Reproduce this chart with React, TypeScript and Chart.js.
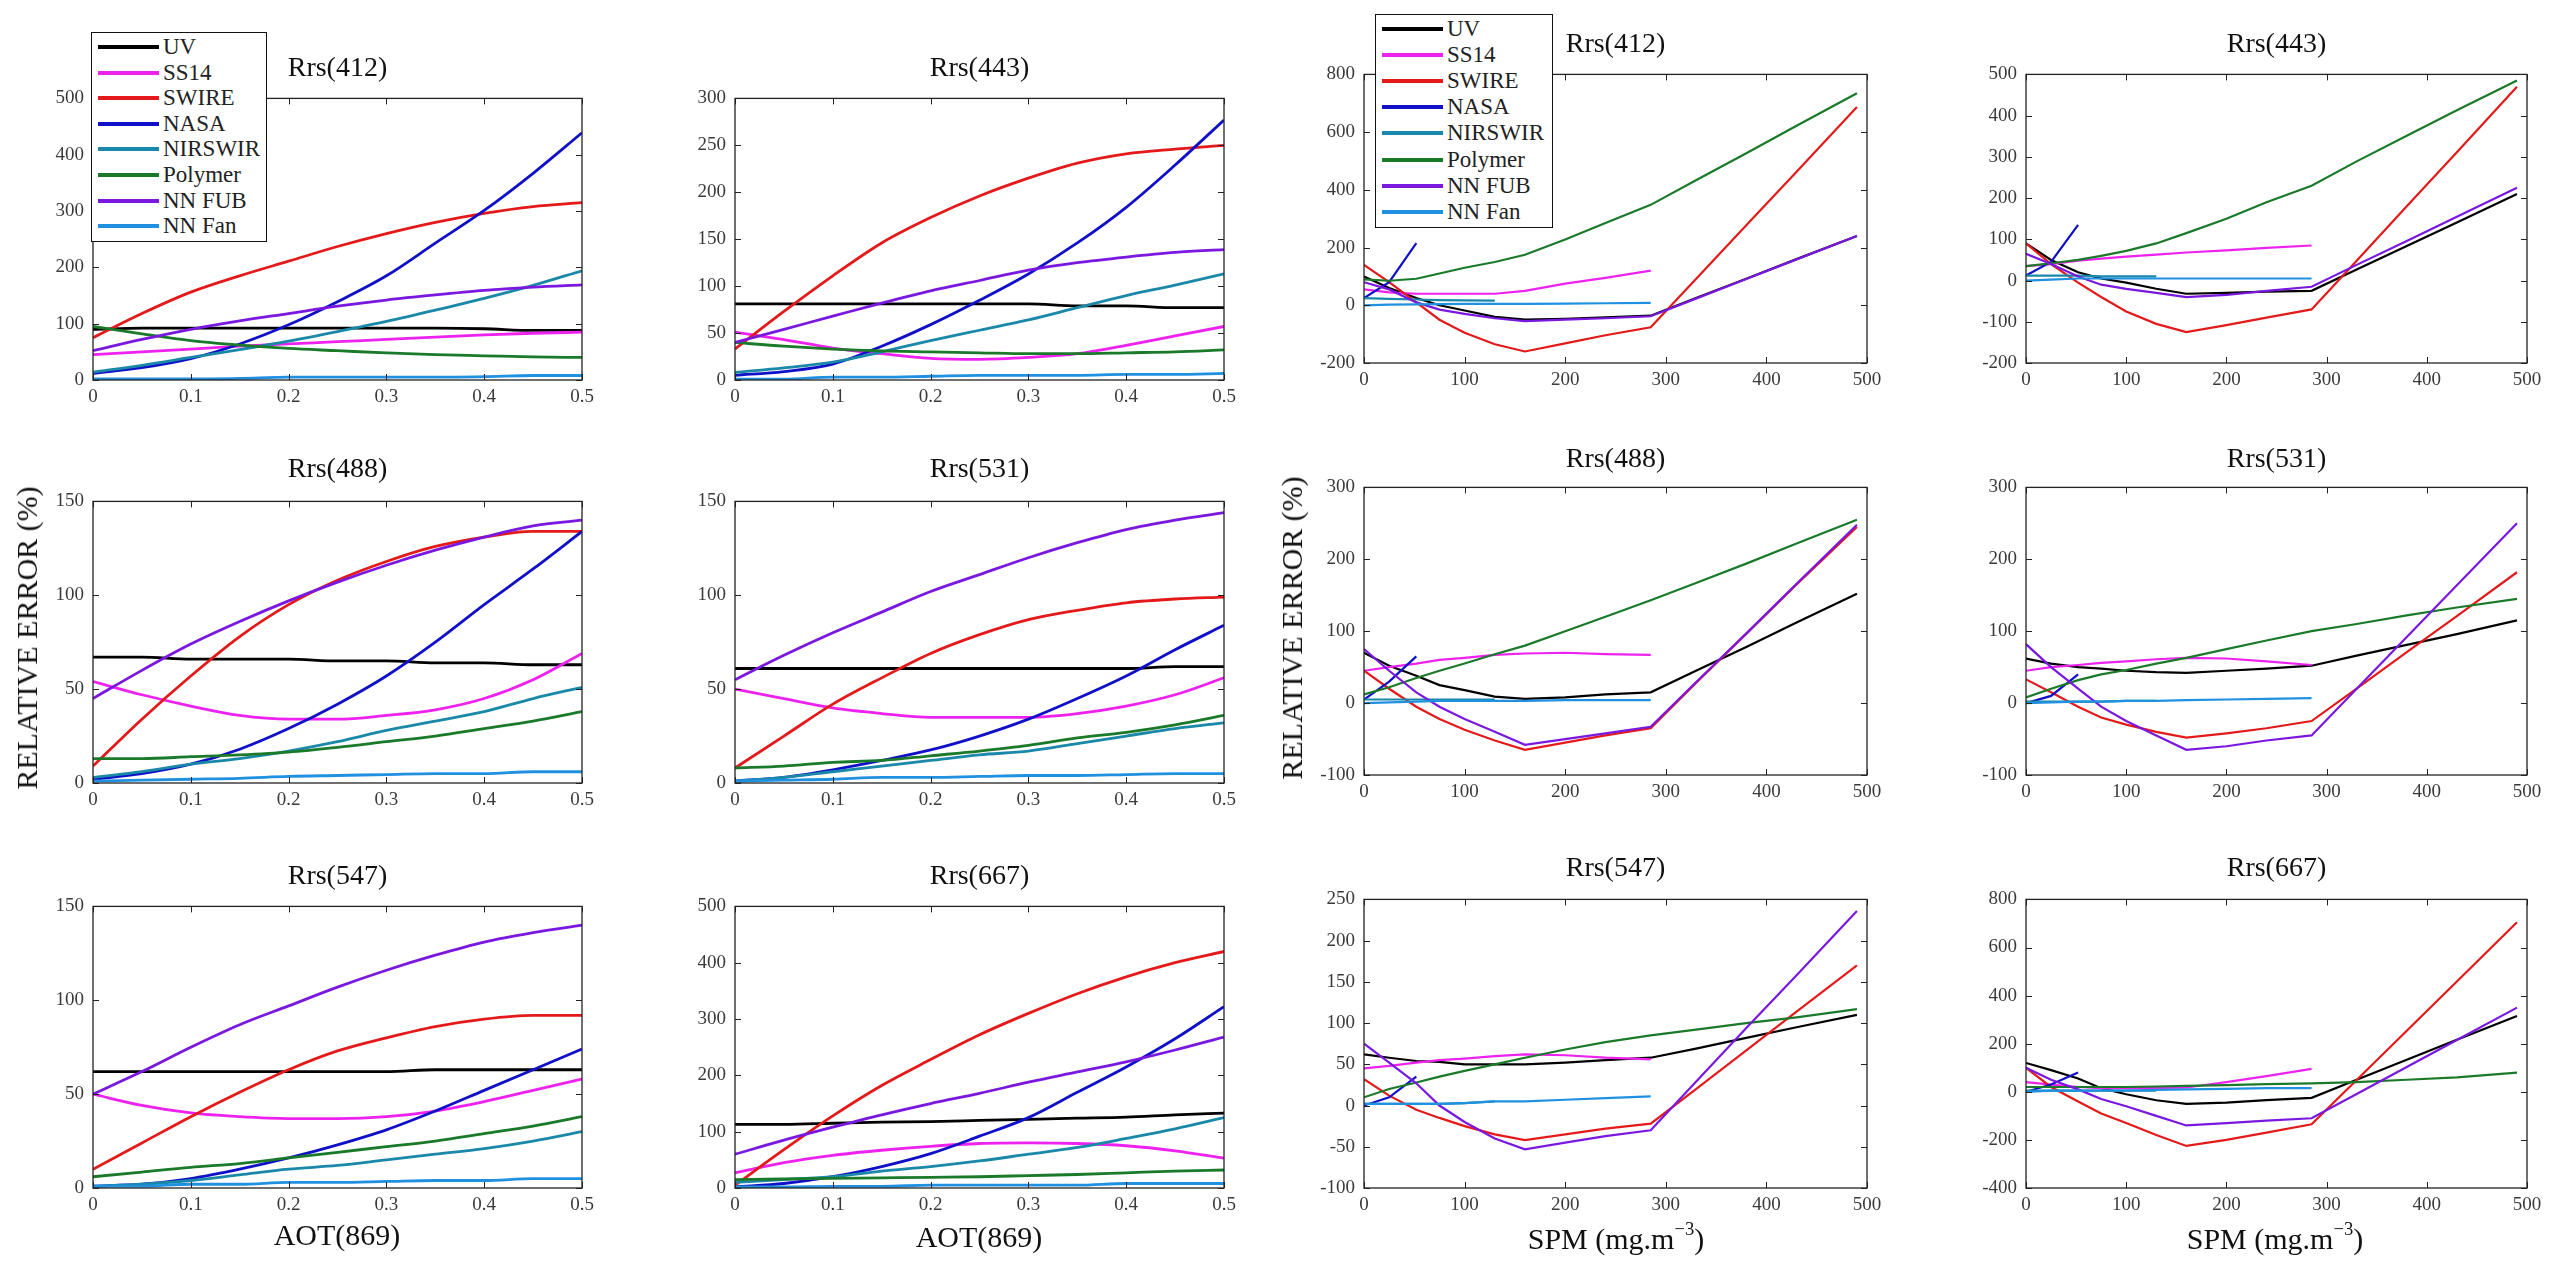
import React, { useEffect, useRef } from "react";
import { Chart, registerables } from "chart.js";

Chart.register(...registerables);

const seriesNames = ["UV", "SS14", "SWIRE", "NASA", "NIRSWIR", "Polymer", "NN FUB", "NN Fan"];
const seriesColors = ["#000000", "#EE22EE", "#E41A1A", "#1010C8", "#1A88A8", "#1A7A2A", "#7A18E0", "#2090E0"];

const aotX = [0, 0.05, 0.1, 0.15, 0.2, 0.25, 0.3, 0.35, 0.4, 0.45, 0.5];
const spmX = [0, 25, 52, 75, 100, 130, 160, 200, 240, 285, 330, 380, 430, 490];

// AOT(869) panels: rows = UV, SS14, SWIRE, NASA, NIRSWIR, Polymer, NN FUB, NN Fan
const aot412 = [
  [90, 92, 92, 92, 92, 92, 92, 92, 91, 88, 88],
  [45, 50, 55, 60, 64, 68, 72, 76, 80, 83, 85],
  [75, 118, 156, 185, 211, 237, 260, 280, 296, 308, 315],
  [12, 22, 38, 64, 98, 139, 185, 243, 301, 367, 439],
  [14, 26, 40, 54, 69, 86, 104, 124, 145, 168, 194],
  [95, 82, 70, 62, 56, 52, 48, 45, 43, 41, 40],
  [52, 72, 90, 105, 118, 131, 142, 151, 159, 165, 169],
  [2, 2, 2, 3, 5, 5, 5, 5, 6, 8, 8],
];
const aot443 = [
  [81, 81, 81, 81, 81, 81, 81, 79, 79, 77, 77],
  [51, 43, 34, 28, 23, 22, 24, 28, 37, 47, 57],
  [33, 73, 111, 146, 173, 196, 215, 231, 241, 246, 250],
  [5, 9, 17, 36, 59, 85, 113, 146, 184, 229, 277],
  [8, 13, 19, 30, 42, 53, 64, 77, 90, 101, 113],
  [40, 36, 33, 31, 30, 29, 28, 28, 29, 30, 32],
  [40, 54, 68, 82, 95, 106, 117, 125, 131, 136, 139],
  [1, 1, 3, 3, 4, 5, 5, 5, 6, 6, 7],
];
const aot488 = [
  [67, 67, 66, 66, 66, 65, 65, 64, 64, 63, 63],
  [54, 47, 41, 36, 34, 34, 36, 39, 45, 55, 69],
  [9, 34, 57, 78, 95, 108, 118, 126, 131, 134, 134],
  [2, 5, 10, 18, 29, 42, 57, 75, 95, 114, 134],
  [3, 6, 10, 13, 17, 22, 28, 33, 38, 45, 51],
  [13, 13, 14, 15, 16.5, 19, 22, 25, 29, 33, 38],
  [45, 60, 74, 86, 97, 107, 116, 124, 131, 137, 140],
  [1, 1.5, 2, 2.5, 3.5, 4, 4.5, 5, 5, 6, 6],
];
const aot531 = [
  [61, 61, 61, 61, 61, 61, 61, 61, 61, 62, 62],
  [50, 45, 40, 37, 35, 35, 35, 37, 41, 47, 56],
  [8, 25, 42, 56, 69, 79, 87, 92, 96, 98, 99],
  [1, 3, 7, 12, 17.6, 25, 34, 45, 57, 71, 84],
  [1, 3, 6, 9, 12, 15, 17, 21, 25, 29, 32],
  [8, 9, 11, 12, 14.5, 17, 20, 24, 27, 31, 36],
  [55, 68, 80, 91, 102, 111, 120, 128, 135, 140, 144],
  [1, 1.5, 2, 3, 3, 3.5, 4, 4, 4.5, 5, 5],
];
const aot547 = [
  [62, 62, 62, 62, 62, 62, 62, 63, 63, 63, 63],
  [50, 44, 40, 38, 37, 37, 38, 41, 46, 52, 58],
  [10, 24, 38, 51, 63, 73, 80, 86, 90, 92, 92],
  [1, 2, 5, 10, 16, 23, 31, 41, 52, 63, 74],
  [1, 2, 4, 7, 10, 12, 15, 18, 21, 25, 30],
  [6, 8.5, 11, 13, 16, 19, 22, 25, 29, 33, 38],
  [50, 62, 75, 87, 97, 107, 116, 124, 131, 136, 140],
  [1, 1, 2, 2, 3, 3, 3.5, 4, 4, 5, 5],
];
const aot667 = [
  [113, 113, 115, 117, 118, 120, 122, 124, 126, 130, 133],
  [27, 45, 58, 67, 74, 79, 80, 79, 75, 66, 53],
  [5, 68, 128, 182, 228, 272, 310, 345, 375, 400, 420],
  [2, 8, 20, 38, 61, 92, 125, 170, 215, 265, 322],
  [10, 15, 20, 30, 38, 48, 60, 72, 88, 105, 125],
  [15, 16, 17, 18, 19, 20, 22, 24, 27, 30, 32],
  [60, 85, 108, 130, 150, 168, 188, 206, 224, 245, 268],
  [2, 2, 3, 3, 5, 5, 5, 5, 8, 8, 8],
];

// SPM panels
const spm412 = [
  [100, 60, 25, 0, -18, -40, -50, -47, -42, -36, 25, 92, 160, 240],
  [55, 45, 40, 40, 40, 40, 50, 75, 95, 120, null, null, null, null],
  [140, 80, 10, -50, -95, -135, -160, -132, -104, -76, 91, 277, 463, 687],
  [25, 80, 215, null, null, null, null, null, null, null, null, null, null, null],
  [25, 22, 20, 18, 17, 16, null, null, null, null, null, null, null, null],
  [90, 85, 92, 110, 130, 150, 175, 228, 285, 348, 433, 527, 622, 735],
  [80, 55, 10, -15, -30, -45, -55, -50, -45, -38, 23, 91, 159, 240],
  [0, 2, 3, 4, 5, 5, 5, 6, 7, 8, null, null, null, null],
];
const spm443 = [
  [90, 50, 20, 5, -5, -20, -32, -30, -27, -25, 27, 84, 141, 210],
  [35, 40, 48, 53, 58, 63, 68, 73, 79, 85, null, null, null, null],
  [90, 40, -5, -40, -75, -105, -125, -108, -90, -70, 48, 180, 311, 470],
  [12, 45, 135, null, null, null, null, null, null, null, null, null, null, null],
  [12, 12, 12, 10, 10, 10, null, null, null, null, null, null, null, null],
  [35, 42, 50, 60, 72, 90, 115, 150, 190, 230, 289, 351, 413, 485],
  [65, 40, 10, -10, -20, -30, -40, -35, -25, -15, 38, 96, 155, 225],
  [0, 2, 5, 5, 5, 5, 5, 5, 5, 5, null, null, null, null],
];
const spm488 = [
  [70, 52, 38, 25, 18, 9, 6, 8, 12, 15, 45, 78, 112, 152],
  [45, 50, 55, 60, 63, 67, 69, 70, 68, 67, null, null, null, null],
  [45, 20, -5, -22, -37, -52, -65, -55, -45, -35, 28, 96, 165, 245],
  [5, 30, 65, null, null, null, null, null, null, null, null, null, null, null],
  [5, 5, 5, 5, 5, 5, null, null, null, null, null, null, null, null],
  [12, 22, 35, 45, 55, 68, 80, 100, 120, 143, 167, 194, 222, 255],
  [75, 45, 15, -5, -22, -40, -58, -50, -42, -33, 29, 97, 166, 248],
  [0, 1, 2, 3, 3, 3, 3, 4, 4, 4, null, null, null, null],
];
const spm531 = [
  [62, 55, 50, 48, 45, 43, 42, 45, 48, 52, 66, 81, 96, 115],
  [45, 50, 53, 56, 58, 61, 63, 62, 58, 53, null, null, null, null],
  [33, 15, -5, -20, -30, -40, -48, -42, -35, -25, 20, 71, 121, 182],
  [0, 10, 40, null, null, null, null, null, null, null, null, null, null, null],
  [2, 2, 2, 2, 3, 3, null, null, null, null, null, null, null, null],
  [8, 20, 32, 40, 46, 55, 63, 75, 87, 100, 110, 122, 133, 145],
  [82, 50, 20, -5, -25, -45, -65, -60, -52, -45, 20, 92, 164, 250],
  [0, 1, 2, 2, 3, 3, 4, 5, 6, 7, null, null, null, null],
];
const spm547 = [
  [62, 58, 54, 53, 50, 50, 50, 52, 55, 58, 69, 82, 95, 110],
  [45, 48, 52, 55, 57, 60, 62, 61, 58, 56, null, null, null, null],
  [32, 12, -5, -15, -25, -35, -42, -35, -28, -22, 20, 67, 114, 170],
  [0, 10, 35, null, null, null, null, null, null, null, null, null, null, null],
  [2, 2, 2, 2, 3, 5, null, null, null, null, null, null, null, null],
  [10, 20, 28, 35, 42, 50, 58, 68, 77, 85, 92, 100, 107, 117],
  [75, 52, 27, 0, -20, -40, -53, -45, -37, -30, 29, 94, 158, 236],
  [2, 2, 2, 2, 3, 5, 5, 7, 9, 11, null, null, null, null],
];
const spm667 = [
  [120, 90, 55, 15, -10, -35, -50, -45, -35, -25, 50, 133, 216, 315],
  [40, 30, 20, 15, 15, 15, 18, 40, 65, 95, null, null, null, null],
  [100, 20, -40, -90, -130, -180, -225, -200, -170, -135, 49, 254, 459, 705],
  [0, 30, 80, null, null, null, null, null, null, null, null, null, null, null],
  [5, 5, 5, 5, 5, 5, null, null, null, null, null, null, null, null],
  [20, 20, 20, 20, 20, 22, 25, 28, 32, 35, 40, 50, 60, 80],
  [100, 50, 10, -30, -60, -100, -140, -130, -120, -110, -9, 103, 215, 350],
  [0, 5, 5, 5, 5, 8, 10, 12, 15, 15, null, null, null, null],
];

const panelTitles = [
  ["Rrs(412)", "Rrs(443)", "Rrs(412)", "Rrs(443)"],
  ["Rrs(488)", "Rrs(531)", "Rrs(488)", "Rrs(531)"],
  ["Rrs(547)", "Rrs(667)", "Rrs(547)", "Rrs(667)"],
];
const panelData = [
  [aot412, aot443, spm412, spm443],
  [aot488, aot531, spm488, spm531],
  [aot547, aot667, spm547, spm667],
];
const yMins = [
  [0, 0, -200, -200],
  [0, 0, -100, -100],
  [0, 0, -100, -400],
];
const yMaxs = [
  [500, 300, 800, 500],
  [150, 150, 300, 300],
  [150, 500, 250, 800],
];
const ySteps = [
  [100, 50, 200, 100],
  [50, 50, 100, 100],
  [50, 100, 50, 200],
];

// layout (pixels)
const colLeft = [93, 735, 1364, 2026];
const colRight = [582, 1224, 1867, 2527];
const aotTop = [92, 495, 900];
const aotBottom = [380, 783, 1188];
const spmTop = [68, 481, 893];
const spmBottom = [363, 775, 1188];
const aotTitleY = [67, 468, 875];
const spmTitleY = [43, 458, 867];

const FONT = "'Liberation Serif', 'DejaVu Serif', serif";
const PADL = 80;
const PADT = 14;
const PADR = 26;
const PADB = 40;

const framePlugin = {
  id: "frame",
  afterDraw(chart: any) {
    const { ctx, chartArea: a, scales } = chart;
    const x = scales.x;
    const y = scales.y;
    ctx.save();
    ctx.strokeStyle = "#222";
    ctx.lineWidth = 1.3;
    ctx.strokeRect(a.left, a.top, a.right - a.left, a.bottom - a.top);
    const tl = 6;
    ctx.beginPath();
    x.ticks.forEach((t: any) => {
      const px = Math.round(x.getPixelForValue(t.value)) + 0.5;
      ctx.moveTo(px, a.bottom);
      ctx.lineTo(px, a.bottom - tl);
      ctx.moveTo(px, a.top);
      ctx.lineTo(px, a.top + tl);
    });
    y.ticks.forEach((t: any) => {
      const py = Math.round(y.getPixelForValue(t.value)) + 0.5;
      ctx.moveTo(a.left, py);
      ctx.lineTo(a.left + tl, py);
      ctx.moveTo(a.right, py);
      ctx.lineTo(a.right - tl, py);
    });
    ctx.lineWidth = 1;
    ctx.stroke();
    ctx.restore();
  },
};

type PanelProps = {
  left: number;
  top: number;
  right: number;
  bottom: number;
  xs: number[];
  ys: (number | null)[][];
  yMin: number;
  yMax: number;
  yStep: number;
  xMax: number;
  xStep: number;
  smooth: boolean;
  lineWidth: number;
};

function Panel(p: PanelProps) {
  const ref = useRef<HTMLCanvasElement>(null);
  const cw = p.right - p.left + PADL + PADR;
  const ch = p.bottom - p.top + PADT + PADB;
  useEffect(() => {
    const canvas = ref.current!;
    const datasets = p.ys.map((vals, i) => ({
      label: seriesNames[i],
      data: p.xs.map((x, j) => ({ x, y: vals[j] })),
      borderColor: seriesColors[i],
      backgroundColor: seriesColors[i],
      borderWidth: p.lineWidth,
      pointRadius: 0,
      fill: false,
      spanGaps: false,
      tension: 0,
      cubicInterpolationMode: p.smooth ? "monotone" : "default",
      order: 10 - i,
    }));
    const tickFont = { family: FONT, size: 19 };
    const chart = new Chart(canvas, {
      type: "line",
      data: { datasets } as any,
      options: {
        animation: false,
        responsive: false,
        maintainAspectRatio: false,
        events: [],
        layout: { padding: { top: PADT, right: PADR, left: 0, bottom: 0 } },
        plugins: {
          legend: { display: false },
          tooltip: { enabled: false },
          title: { display: false },
        },
        scales: {
          x: {
            type: "linear",
            min: 0,
            max: p.xMax,
            grid: { display: false, drawTicks: false },
            border: { display: false },
            ticks: {
              stepSize: p.xStep,
              font: tickFont,
              color: "#3a3a3a",
              padding: 6,
              maxRotation: 0,
              autoSkip: false,
              callback: (v: any) => String(Number(Number(v).toFixed(2))),
            },
            afterFit: (s: any) => {
              s.height = PADB;
            },
          },
          y: {
            type: "linear",
            min: p.yMin,
            max: p.yMax,
            grid: { display: false, drawTicks: false },
            border: { display: false },
            ticks: {
              stepSize: p.yStep,
              font: tickFont,
              color: "#3a3a3a",
              padding: 9,
              autoSkip: false,
              callback: (v: any) => String(Number(v)),
            },
            afterFit: (s: any) => {
              s.width = PADL;
            },
          },
        },
      } as any,
      plugins: [framePlugin],
    });
    return () => chart.destroy();
  }, []);
  return (
    <canvas
      ref={ref}
      width={cw}
      height={ch}
      style={{ position: "absolute", left: p.left - PADL, top: p.top - PADT, width: cw, height: ch }}
    />
  );
}

function Legend({ left, top, width, height, step }: { left: number; top: number; width: number; height: number; step: number }) {
  return (
    <div
      style={{
        position: "absolute",
        left,
        top,
        width,
        height,
        background: "#fff",
        border: "1.5px solid #111",
        boxSizing: "border-box",
      }}
    >
      {seriesNames.map((n, i) => {
        const cy = 14 + i * step;
        return (
          <React.Fragment key={n}>
            <div
              style={{
                position: "absolute",
                left: 6,
                top: cy - 2,
                width: 61,
                height: 4,
                background: seriesColors[i],
              }}
            />
            <div
              style={{
                position: "absolute",
                left: 71,
                top: cy - 13,
                height: 26,
                lineHeight: "26px",
                fontFamily: FONT,
                fontSize: 23,
                color: "#222",
                whiteSpace: "nowrap",
              }}
            >
              {n}
            </div>
          </React.Fragment>
        );
      })}
    </div>
  );
}

function CenterText({ x, y, size, children, rotate }: any) {
  return (
    <div
      style={{
        position: "absolute",
        left: x,
        top: y,
        transform: `translate(-50%, -50%)${rotate ? " rotate(-90deg)" : ""}`,
        fontFamily: FONT,
        fontSize: size,
        color: "#111",
        whiteSpace: "nowrap",
        lineHeight: 1,
      }}
    >
      {children}
    </div>
  );
}

export default function App() {
  const panels: any[] = [];
  const titles: any[] = [];
  for (let r = 0; r < 3; r++) {
    for (let c = 0; c < 4; c++) {
      const isAot = c < 2;
      const top = isAot ? aotTop[r] : spmTop[r];
      const bottom = isAot ? aotBottom[r] : spmBottom[r];
      panels.push(
        <Panel
          key={`p${r}${c}`}
          left={colLeft[c]}
          right={colRight[c]}
          top={top}
          bottom={bottom}
          xs={isAot ? aotX : spmX}
          ys={panelData[r][c]}
          yMin={yMins[r][c]}
          yMax={yMaxs[r][c]}
          yStep={ySteps[r][c]}
          xMax={isAot ? 0.5 : 500}
          xStep={isAot ? 0.1 : 100}
          smooth={isAot}
          lineWidth={isAot ? 2.8 : 2.2}
        />
      );
      titles.push(
        <CenterText key={`t${r}${c}`} x={(colLeft[c] + colRight[c]) / 2} y={isAot ? aotTitleY[r] : spmTitleY[r]} size={28}>
          {panelTitles[r][c]}
        </CenterText>
      );
    }
  }
  return (
    <div
      style={{
        position: "absolute",
        left: 0,
        top: 0,
        width: 2549,
        height: 1261,
        background: "#fff",
        overflow: "hidden",
      }}
    >
      {panels}
      {titles}
      <Legend left={91} top={32} width={176} height={210} step={25.6} />
      <Legend left={1375} top={14} width={178} height={214} step={26.1} />
      <CenterText x={27} y={638} size={30} rotate>
        RELATIVE ERROR (%)
      </CenterText>
      <CenterText x={1292} y={628} size={30} rotate>
        RELATIVE ERROR (%)
      </CenterText>
      <CenterText x={337} y={1235} size={30}>
        AOT(869)
      </CenterText>
      <CenterText x={979} y={1237} size={30}>
        AOT(869)
      </CenterText>
      <CenterText x={1616} y={1237} size={30}>
        SPM (mg.m<sup style={{ fontSize: "0.62em", verticalAlign: "0.7em" }}>−3</sup>)
      </CenterText>
      <CenterText x={2275} y={1237} size={30}>
        SPM (mg.m<sup style={{ fontSize: "0.62em", verticalAlign: "0.7em" }}>−3</sup>)
      </CenterText>
    </div>
  );
}
